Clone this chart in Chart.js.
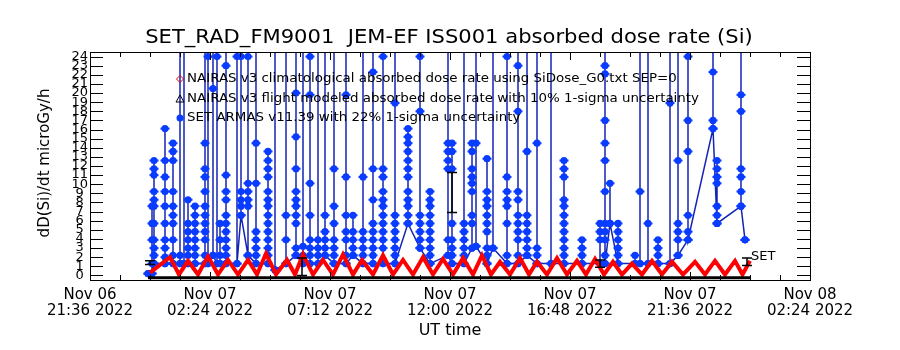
<!DOCTYPE html>
<html>
<head>
<meta charset="utf-8">
<script src="https://cdn.jsdelivr.net/npm/chart.js@4.4.1/dist/chart.umd.min.js"></script>
<style>
  html, body { margin: 0; padding: 0; background: #fff; }
  canvas { display: block; }
</style>
</head>
<body>
<canvas id="doseChart" width="900" height="350"></canvas>
<script>
// x axis: hours since Nov 06 2022 21:36 UT
const xTickHours = [0, 4.8, 9.6, 14.4, 19.2, 24, 28.8];
const xTickDays = ['Nov 06', 'Nov 07', 'Nov 07', 'Nov 07', 'Nov 07', 'Nov 07', 'Nov 08'];
const xTickTimes = ['21:36 2022', '02:24 2022', '07:12 2022', '12:00 2022', '16:48 2022', '21:36 2022', '02:24 2022'];
const yTicks = [0, 1, 2, 3, 4, 5, 6, 7, 8, 9, 10, 11, 12, 13, 14, 15, 16, 17, 18, 19, 20, 21, 22, 23, 24];

// SET ARMAS measurements, grouped by time column (30 = off scale spike)
const setColumnHours = [
    2.32, 2.48, 2.56, 3.00, 3.32, 3.60, 3.76, 3.92, 4.20, 4.60,
    4.72, 4.92, 5.08, 5.20, 5.44, 5.88, 6.04, 6.32, 6.64, 7.12,
    7.40, 7.84, 8.24, 8.52, 8.80, 9.12, 9.40, 9.76, 10.24, 10.52,
    10.92, 11.32, 11.72, 12.20, 12.72, 13.20, 13.60, 14.32, 14.48, 14.96,
    15.28, 15.44, 15.88, 16.12, 16.68, 17.12, 17.48, 17.88, 18.44, 18.96,
    19.68, 20.40, 20.60, 20.80, 21.12, 21.80, 22.00, 22.32, 22.72, 23.20,
    23.52, 23.92, 24.92, 25.08, 26.04, 26.20
];
const setColumnDose = [
    [0.2],
    [7.6, 5.7, 3.9, 1.3, 0.2],
    [12.6, 11.7, 11.0, 9.2, 8.3, 7.6, 5.7, 3.9, 3.0, 2.2, 1.3],
    [16.1, 12.6, 10.8, 9.2, 7.6, 5.7, 3.9, 3.0, 2.0, 1.3],
    [14.5, 13.6, 12.6, 9.2, 7.6, 6.6, 5.7, 3.9, 2.2, 1.3],
    [30, 2.2, 1.3],
    [30, 1.3],
    [8.3, 5.7, 4.8, 3.9, 3.0, 2.2, 1.3],
    [7.6, 6.6, 5.7, 4.8, 3.9, 3.0, 2.2, 1.3],
    [30, 14.5, 11.7, 10.8, 9.2, 7.6, 6.6, 5.7, 4.8, 3.9, 2.2, 1.3],
    [30, 24.0, 1.3],
    [30, 20.5, 2.2],
    [30, 24.0, 1.3],
    [5.7, 3.9, 2.2, 1.3],
    [30, 23.0, 11.0, 9.2, 8.3, 6.6, 5.7, 4.8, 3.9, 3.0, 2.2, 1.3],
    [30, 24.0, 1.3],
    [30, 24.0, 9.2, 8.3, 7.6, 6.6],
    [30, 24.0, 10.1, 9.2, 8.3, 7.6, 2.2],
    [30, 14.5, 10.1, 4.8, 3.9, 3.0, 2.2, 1.3],
    [13.6, 12.6, 11.7, 10.8, 9.2, 8.3, 7.6, 6.6, 5.7, 4.8, 3.9, 3.0, 2.2, 1.3],
    [30, 0.6],
    [30, 6.6, 3.9, 1.3],
    [30, 20.0, 15.2, 11.7, 9.2, 8.3, 7.6, 6.6, 5.7, 3.0, 2.2],
    [30, 3.2, 2.2, 1.3],
    [30, 24.0, 19.8, 10.1, 6.6, 3.9, 3.0, 2.2, 1.3],
    [30, 3.9, 3.0, 2.2, 1.3],
    [30, 6.6, 4.8, 3.9, 3.0, 2.2],
    [30, 11.7, 7.6, 5.7, 3.9, 3.0, 2.2, 1.3],
    [30, 19.8, 10.8, 6.6, 4.8, 3.9, 2.2, 1.3],
    [6.6, 4.8, 3.9, 3.0, 2.2],
    [30, 10.8, 4.8, 3.9, 3.0, 2.2, 1.3],
    [30, 22.3, 11.7, 8.3, 5.7, 4.8, 3.9, 3.0, 2.2, 1.3],
    [30, 24.0, 11.7, 10.8, 9.2, 8.3, 7.6, 6.6, 5.7, 4.8, 3.9, 3.0, 1.3],
    [30, 18.9, 6.6, 5.7, 4.8, 3.9, 3.0, 2.2, 1.3],
    [16.1, 15.2, 14.5, 13.6, 12.6, 11.7, 10.8, 9.2, 8.3, 7.6, 6.6, 5.7],
    [30, 24.0, 18.0, 6.6, 5.7, 4.8, 3.9, 3.0],
    [9.2, 8.3, 7.6, 6.6, 5.7, 4.8, 3.9, 3.0, 2.2, 1.3],
    [30, 14.5, 13.6, 12.6, 11.7, 3.9, 2.2],
    [14.5, 13.6, 11.7, 5.7, 3.9, 3.0, 2.2, 1.3],
    [30, 5.7, 4.8, 3.9, 3.0, 2.2, 1.3],
    [14.5, 13.6, 11.7, 10.8, 10.1, 9.2, 6.6, 5.7, 3.0],
    [30, 14.5, 3.2],
    [12.8, 9.2, 8.3, 7.6, 6.6, 5.7, 4.8, 3.0, 2.2, 1.3],
    [30, 3.0],
    [30, 24.0, 10.8, 9.2, 8.3, 7.6, 5.7, 2.2, 1.3],
    [30, 23.0, 18.0, 9.2, 8.3, 6.6, 5.7, 4.8, 3.9, 2.2, 1.3],
    [30, 13.6, 6.6, 5.7, 4.8, 3.9, 3.0, 2.2],
    [30, 14.5, 3.0, 2.2, 1.3],
    [30, 1.3],
    [12.6, 11.7, 10.8, 8.3, 7.6, 6.6, 5.7, 4.8, 3.9, 3.0, 2.2, 1.3],
    [3.9, 3.0, 2.2, 1.3],
    [5.7, 4.8, 3.9, 1.3],
    [30, 23.0, 22.1, 17.0, 14.5, 12.6, 9.2, 5.7, 4.8, 3.9, 2.2, 1.3],
    [10.1, 5.7],
    [5.7, 4.8, 3.9, 3.0, 2.2, 1.3],
    [2.2, 1.3],
    [30, 9.2, 1.3],
    [30, 5.7, 1.3],
    [3.9, 3.0, 2.2, 1.3],
    [30, 18.9, 1.3],
    [30, 12.6, 5.7, 4.8, 3.9, 2.2],
    [30, 24.0, 17.0, 13.6, 6.6, 4.8, 3.9],
    [30, 22.3, 17.0, 16.1],
    [12.6, 11.7, 10.8, 10.1, 7.6, 6.6, 5.7],
    [30, 19.8, 18.0, 11.7, 10.8, 9.2, 7.6],
    [3.9]
];

// NAIRAS v3 climatological dose rate (orbit peaks / troughs)
const climHours = [
    2.40, 3.20, 3.56, 3.92, 4.32, 4.72, 5.12, 5.52, 5.92, 6.32,
    6.68, 7.04, 7.44, 7.88, 8.20, 8.52, 8.92, 9.32, 9.72, 10.12,
    10.52, 10.88, 11.32, 11.72, 12.12, 12.52, 12.92, 13.32, 13.72, 14.12,
    14.52, 14.92, 15.32, 15.68, 16.04, 16.40, 16.80, 17.20, 17.56, 17.88,
    18.28, 18.68, 19.08, 19.48, 19.84, 20.20, 20.56, 20.92, 21.28, 21.68,
    22.08, 22.48, 22.88, 23.28, 23.72, 24.20, 24.60, 25.00, 25.40, 25.80,
    26.10, 26.40
];
const climDose = [
    0.3, 2.0, 0.1, 1.6, 0.1, 2.1, 0.1, 1.7, 0.1, 1.7,
    0.1, 2.4, 0.1, 1.7, 0.1, 2.3, 0.1, 1.7, 0.1, 2.3,
    0.1, 1.7, 0.1, 2.2, 0.1, 1.7, 0.1, 2.0, 0.1, 1.8,
    0.1, 1.9, 0.1, 2.2, 0.1, 1.5, 0.1, 1.9, 0.1, 1.5,
    0.1, 1.9, 0.1, 1.6, 0.1, 1.8, 0.1, 1.5, 0.1, 1.3,
    0.1, 1.6, 0.1, 1.5, 0.1, 1.5, 0.1, 1.6, 0.1, 1.6,
    0.1, 1.6
];

// NAIRAS v3 flight modeled dose rate and its error bars
const flightHours = [2.32, 26.40];
const flightDose = [-0.25, -0.25];
const flightErrHours = [2.40, 8.48, 14.48, 20.40, 26.28];
const flightErrLow = [1.2, 0.0, 6.9, 0.9, 1.1];
const flightErrHigh = [1.6, 1.9, 11.3, 1.7, 1.9];

const FONT = 'DejaVu Sans';

// each column is walked up from its lowest reading and back down,
// so the trace between columns stays near the floor
const setPoints = [];
setColumnHours.forEach((h, i) => {
    const vals = setColumnDose[i].slice().reverse();
    vals.forEach(v => setPoints.push({ x: h, y: v }));
    setPoints.push({ x: h, y: vals[0] });
});
const climPoints = climHours.map((h, i) => ({ x: h, y: climDose[i] }));
const flightPoints = flightHours.map((h, i) => ({ x: h, y: flightDose[i] }));

function wideText(ctx, text, x, y, stretch) {
    ctx.save();
    ctx.translate(x, y);
    ctx.scale(stretch, 1);
    ctx.fillText(text, 0, 0);
    ctx.restore();
}

const decorations = {
    id: 'decorations',
    afterDatasetsDraw(chart) {
        const { ctx, chartArea: a, scales: { x, y } } = chart;
        ctx.save();
        ctx.strokeStyle = '#000';

        // error bars of the flight model
        ctx.lineWidth = 1.5;
        flightErrHours.forEach((h, i) => {
            const px = x.getPixelForValue(h);
            const lo = y.getPixelForValue(flightErrLow[i]);
            const hi = y.getPixelForValue(flightErrHigh[i]);
            ctx.beginPath();
            ctx.moveTo(px, lo); ctx.lineTo(px, hi);
            ctx.moveTo(px - 5, lo); ctx.lineTo(px + 5, lo);
            ctx.moveTo(px - 5, hi); ctx.lineTo(px + 5, hi);
            ctx.stroke();
        });

        // frame
        ctx.lineWidth = 1;
        ctx.strokeRect(a.left + 0.5, a.top + 0.5, a.right - a.left, a.bottom - a.top);

        // inward y ticks on both sides
        ctx.beginPath();
        yTicks.forEach(v => {
            const py = Math.round(y.getPixelForValue(v)) + 0.5;
            ctx.moveTo(a.left, py); ctx.lineTo(a.left + 13, py);
            ctx.moveTo(a.right, py); ctx.lineTo(a.right - 13, py);
        });
        // inward x ticks, 4 minor per major
        for (let i = 0; i < xTickHours.length; i++) {
            const px = Math.round(x.getPixelForValue(xTickHours[i])) + 0.5;
            ctx.moveTo(px, a.top); ctx.lineTo(px, a.top + 8);
            ctx.moveTo(px, a.bottom); ctx.lineTo(px, a.bottom - 8);
            if (i < xTickHours.length - 1) {
                const step = (xTickHours[i + 1] - xTickHours[i]) / 4;
                for (let k = 1; k < 4; k++) {
                    const mx = Math.round(x.getPixelForValue(xTickHours[i] + k * step)) + 0.5;
                    ctx.moveTo(mx, a.top); ctx.lineTo(mx, a.top + 5);
                    ctx.moveTo(mx, a.bottom); ctx.lineTo(mx, a.bottom - 5);
                }
            }
        }
        ctx.stroke();

        // legend inside the plot
        ctx.fillStyle = '#000';
        ctx.font = '13px "' + FONT + '"';
        ctx.textAlign = 'left';
        ctx.textBaseline = 'middle';
        const lx = 180;
        const legendRows = [79, 99, 118];
        wideText(ctx, 'NAIRAS v3 climatological absorbed dose rate using SiDose_G0.txt SEP=0', 187, legendRows[0], 1.03);
        wideText(ctx, 'NAIRAS v3 flight modeled absorbed dose rate with 10% 1-sigma uncertainty', 187, legendRows[1], 1.03);
        wideText(ctx, 'SET ARMAS v11.39 with 22% 1-sigma uncertainty', 187, legendRows[2], 1.03);

        ctx.strokeStyle = '#e00000';
        ctx.beginPath();
        ctx.moveTo(lx, legendRows[0] - 3.5); ctx.lineTo(lx + 3.5, legendRows[0]);
        ctx.lineTo(lx, legendRows[0] + 3.5); ctx.lineTo(lx - 3.5, legendRows[0]);
        ctx.closePath(); ctx.stroke();

        ctx.strokeStyle = '#000';
        ctx.beginPath();
        ctx.moveTo(lx, legendRows[1] - 4); ctx.lineTo(lx + 4, legendRows[1] + 3);
        ctx.lineTo(lx - 4, legendRows[1] + 3); ctx.closePath(); ctx.stroke();

        ctx.fillStyle = '#0a3cff';
        ctx.beginPath();
        ctx.arc(lx, legendRows[2], 3.5, 0, Math.PI * 2);
        ctx.fill();

        // SET tag at the end of the record
        ctx.fillStyle = '#000';
        ctx.fillText('SET', 751, 257);
        ctx.restore();
    },
    afterDraw(chart) {
        const { ctx } = chart;
        ctx.save();
        ctx.fillStyle = '#000';
        ctx.textAlign = 'center';
        ctx.textBaseline = 'middle';
        ctx.font = '19px "' + FONT + '"';
        wideText(ctx, 'SET_RAD_FM9001  JEM-EF ISS001 absorbed dose rate (Si)', 449, 38, 1.11);
        ctx.font = '16px "' + FONT + '"';
        ctx.fillText('UT time', 450, 331);
        ctx.translate(45, 163);
        ctx.rotate(-Math.PI / 2);
        ctx.font = '15px "' + FONT + '"';
        ctx.fillText('dD(Si)/dt microGy/h', 0, 0);
        ctx.restore();
    }
};

new Chart(document.getElementById('doseChart'), {
    type: 'line',
    data: {
        datasets: [
            {
                label: 'NAIRAS flight',
                data: flightPoints,
                borderColor: '#000',
                borderWidth: 3,
                pointRadius: 0,
                order: 0
            },
            {
                label: 'NAIRAS climatological',
                data: climPoints,
                borderColor: '#ff0000',
                borderWidth: 4,
                pointRadius: 0,
                order: 1
            },
            {
                label: 'SET ARMAS caps',
                data: setPoints,
                showLine: false,
                pointStyle: 'line',
                pointRadius: 4.5,
                pointBorderColor: '#0a3cff',
                pointBorderWidth: 2,
                order: 2
            },
            {
                label: 'SET ARMAS',
                data: setPoints,
                borderColor: '#1424b4',
                borderWidth: 1.5,
                pointRadius: 3.6,
                pointBackgroundColor: '#0a3cff',
                pointBorderWidth: 0,
                order: 3
            }
        ]
    },
    options: {
        responsive: false,
        animation: false,
        devicePixelRatio: 1,
        layout: { padding: { top: 52, right: 90, left: 0, bottom: 0 } },
        plugins: {
            legend: { display: false },
            tooltip: { enabled: false }
        },
        elements: { line: { tension: 0 } },
        scales: {
            x: {
                type: 'linear',
                min: 0,
                max: 28.8,
                afterBuildTicks: scale => { scale.ticks = xTickHours.map(v => ({ value: v })); },
                afterFit: scale => { scale.height = 70; },
                grid: { display: false, drawTicks: false },
                border: { display: false },
                ticks: {
                    autoSkip: false,
                    maxRotation: 0,
                    padding: 7,
                    color: '#000',
                    font: { family: FONT, size: 15, lineHeight: 1.05 },
                    callback: (v, i) => [xTickDays[i], xTickTimes[i]]
                }
            },
            y: {
                min: -0.5,
                max: 24.5,
                afterBuildTicks: scale => { scale.ticks = yTicks.map(v => ({ value: v })); },
                afterFit: scale => { scale.width = 90; },
                grid: { display: false, drawTicks: false },
                border: { display: false },
                ticks: {
                    autoSkip: false,
                    padding: 2,
                    crossAlign: 'center',
                    color: '#000',
                    font: { family: FONT, size: 13 }
                }
            }
        }
    },
    plugins: [decorations]
});
</script>
</body>
</html>
